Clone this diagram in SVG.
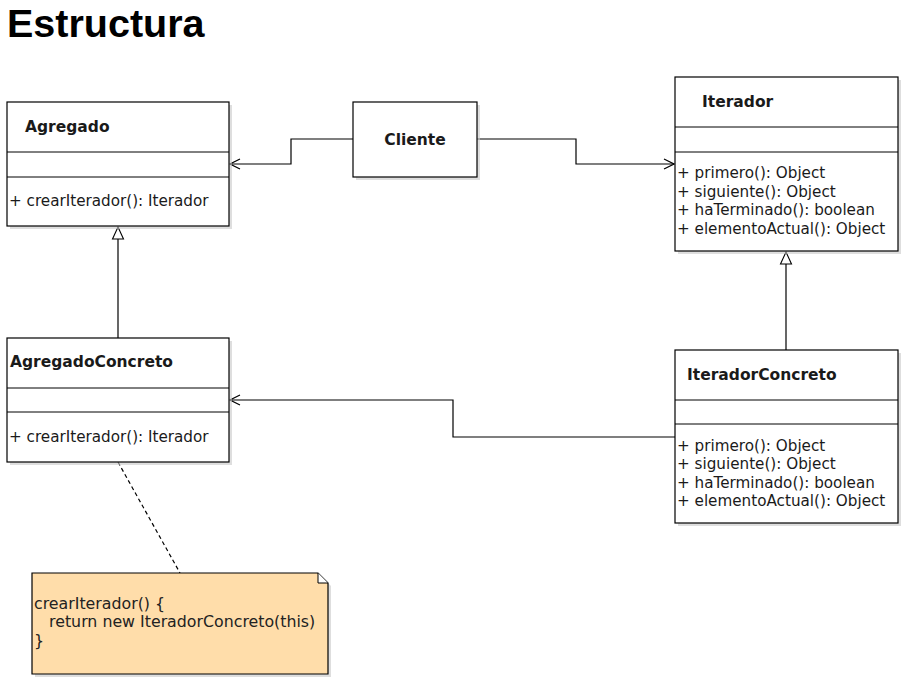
<svg xmlns="http://www.w3.org/2000/svg" width="906" height="679" viewBox="0 0 906 679">
  <style>
    .box { fill: #ffffff; stroke: #000000; stroke-width: 1.2; }
    .shadow { fill: #c8c8c8; opacity: 0.6; }
    .div { stroke: #000000; stroke-width: 1; }
    .title { font-family: "DejaVu Sans", sans-serif; font-size: 15.5px; font-weight: bold; fill: #1a1a1a; }
    .op { font-family: "DejaVu Sans", sans-serif; font-size: 15.2px; fill: #1a1a1a; }
    .note { fill: #ffddaa; stroke: #000000; stroke-width: 1.2; }
    .notetxt { font-family: "DejaVu Sans", sans-serif; font-size: 15.8px; fill: #222222; }
    .edge { fill: none; stroke: #000000; stroke-width: 1.2; }
    .heading { font-family: "Liberation Sans", Arial, sans-serif; font-size: 39.5px; font-weight: bold; fill: #000000; }
  </style>
  <defs>
    <marker id="open" viewBox="0 0 12 12" refX="11" refY="6" markerWidth="12" markerHeight="12" markerUnits="userSpaceOnUse" orient="auto">
      <path d="M1,1 L11,6 L1,11" fill="none" stroke="#000000" stroke-width="1.2"/>
    </marker>
    <marker id="gen" viewBox="0 0 14 14" refX="13" refY="7" markerWidth="14" markerHeight="14" markerUnits="userSpaceOnUse" orient="auto">
      <path d="M1,1.5 L13,7 L1,12.5 Z" fill="#ffffff" stroke="#000000" stroke-width="1.1"/>
    </marker>
  </defs>

  <rect width="906" height="679" fill="#ffffff"/>

  <text class="heading" x="7" y="37">Estructura</text>

  <!-- connectors -->
  <g id="connectors">
    <polyline class="edge" points="353,139 291,139 291,164 230,164" marker-end="url(#open)"/>
    <polyline class="edge" points="477,139 576,139 576,164 674,164" marker-end="url(#open)"/>
    <line class="edge" x1="118" y1="338" x2="118" y2="227" marker-end="url(#gen)"/>
    <line class="edge" x1="786" y1="350" x2="786" y2="252" marker-end="url(#gen)"/>
    <polyline class="edge" points="675,437 453,437 453,400 230,400" marker-end="url(#open)"/>
    <line class="edge" x1="118" y1="462" x2="180" y2="573" stroke-dasharray="4,3"/>
  </g>

  <!-- Agregado -->
  <g id="agregado">
    <rect class="shadow" x="10" y="105" width="222" height="124"/>
    <rect class="box" x="7" y="102" width="222" height="124"/>
    <line class="div" x1="7" y1="152" x2="229" y2="152"/>
    <line class="div" x1="7" y1="177" x2="229" y2="177"/>
    <text class="title" x="25" y="132">Agregado</text>
    <text class="op" x="9" y="206">+ crearIterador(): Iterador</text>
  </g>

  <!-- Cliente -->
  <g id="cliente">
    <rect class="shadow" x="356" y="105" width="124" height="75"/>
    <rect class="box" x="353" y="102" width="124" height="75"/>
    <text class="title" x="415" y="145" text-anchor="middle">Cliente</text>
  </g>

  <!-- Iterador -->
  <g id="iterador">
    <rect class="shadow" x="678" y="80" width="223" height="174"/>
    <rect class="box" x="675" y="77" width="223" height="174"/>
    <line class="div" x1="675" y1="127" x2="898" y2="127"/>
    <line class="div" x1="675" y1="152" x2="898" y2="152"/>
    <text class="title" x="702" y="107">Iterador</text>
    <text class="op" x="677" y="178">+ primero(): Object</text>
    <text class="op" x="677" y="197">+ siguiente(): Object</text>
    <text class="op" x="677" y="215">+ haTerminado(): boolean</text>
    <text class="op" x="677" y="234">+ elementoActual(): Object</text>
  </g>

  <!-- AgregadoConcreto -->
  <g id="agregadoConcreto">
    <rect class="shadow" x="10" y="341" width="222" height="124"/>
    <rect class="box" x="7" y="338" width="222" height="124"/>
    <line class="div" x1="7" y1="388" x2="229" y2="388"/>
    <line class="div" x1="7" y1="412" x2="229" y2="412"/>
    <text class="title" x="10" y="367">AgregadoConcreto</text>
    <text class="op" x="9" y="442">+ crearIterador(): Iterador</text>
  </g>

  <!-- IteradorConcreto -->
  <g id="iteradorConcreto">
    <rect class="shadow" x="678" y="353" width="223" height="173"/>
    <rect class="box" x="675" y="350" width="223" height="173"/>
    <line class="div" x1="675" y1="400" x2="898" y2="400"/>
    <line class="div" x1="675" y1="424" x2="898" y2="424"/>
    <text class="title" x="687" y="380">IteradorConcreto</text>
    <text class="op" x="677" y="451">+ primero(): Object</text>
    <text class="op" x="677" y="469">+ siguiente(): Object</text>
    <text class="op" x="677" y="488">+ haTerminado(): boolean</text>
    <text class="op" x="677" y="506">+ elementoActual(): Object</text>
  </g>

  <!-- note on crearIterador -->
  <g id="nota">
    <path class="shadow" d="M35,576 L321,576 L331,586 L331,677 L35,677 Z"/>
    <path class="note" d="M32,573 L318,573 L328,583 L328,674 L32,674 Z"/>
    <path d="M318,573 L318,583 L328,583" fill="#ffffff" stroke="#000000" stroke-width="1"/>
    <text class="notetxt" x="34" y="609">crearIterador() {</text>
    <text class="notetxt" x="34" y="627" xml:space="preserve">   return new IteradorConcreto(this)</text>
    <text class="notetxt" x="34" y="646">}</text>
  </g>
</svg>
